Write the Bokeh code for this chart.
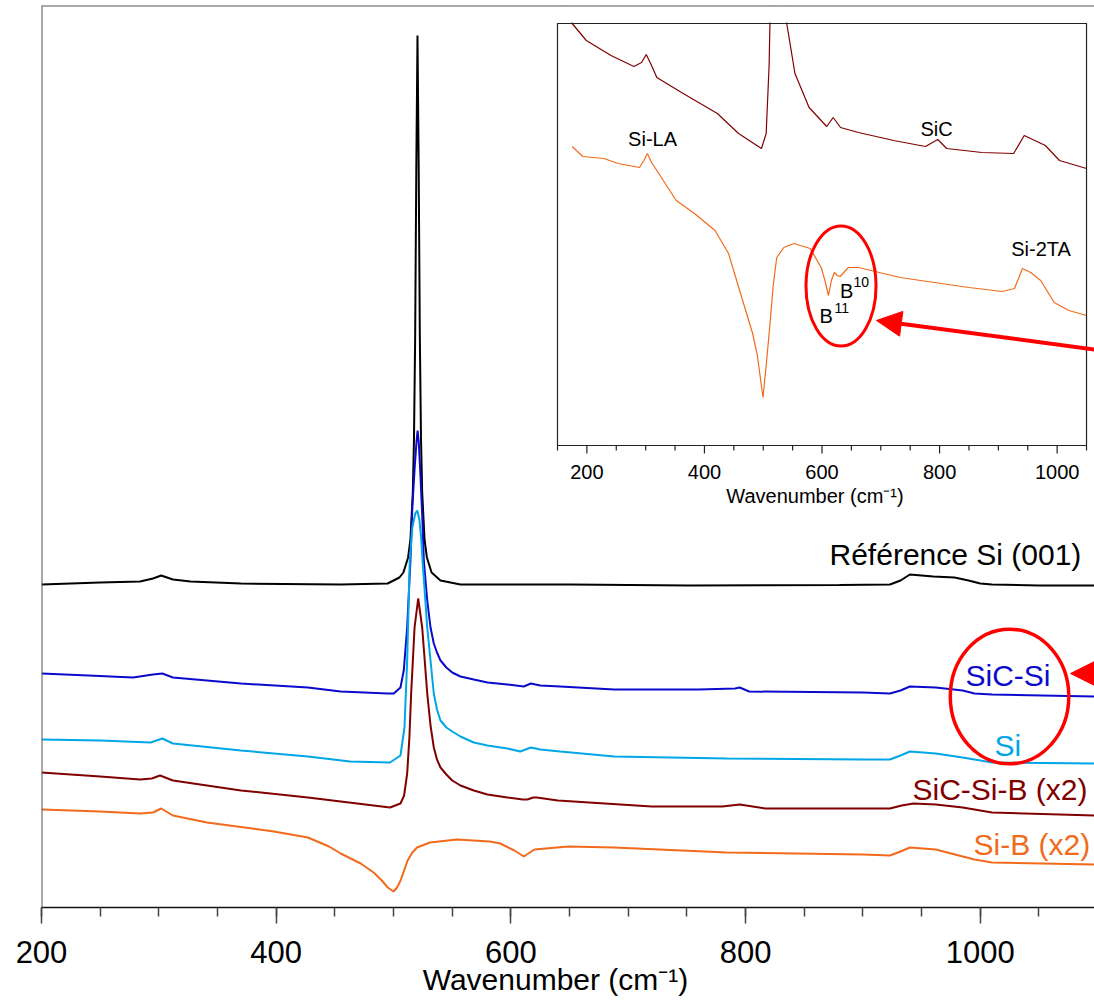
from bokeh.plotting import figure
from bokeh.models import Range1d, Span, Arrow, NormalHead, SingleIntervalTicker
from bokeh.core.properties import value
from bokeh.embed import file_html
from bokeh.resources import INLINE

FONT = "Liberation Sans"

# ---------------- main panel spectra: (wavenumber cm-1, intensity a.u., offset stacked) -------------
ref_si001 = [(200, 323), (250, 325), (284, 326), (295, 329), (302, 332), (312, 328), (327, 326), (370, 324),
             (455, 323), (495, 324), (500, 327), (505, 330), (508.4, 335), (512.4, 350), (514.4, 368),
             (516.4, 415), (517.4, 468), (518.4, 569), (519.4, 742), (520.4, 872), (521.4, 742), (522.4, 569),
             (523.4, 468), (524.4, 415), (526.4, 368), (528.4, 350), (532.4, 335), (540, 327), (557, 323),
             (650, 323), (752, 322), (880, 322.5), (923, 323), (932, 327), (940, 333), (960, 331), (978, 330),
             (990, 327), (1000, 324), (1010, 323), (1050, 322), (1097, 322)]
sic_si = [(200, 234), (240, 232), (278, 230), (295, 233), (303, 234), (312, 230), (370, 224), (427, 220),
          (455, 216), (495, 214), (500.2, 214), (505.9, 220), (508.7, 237), (511.6, 280), (514.4, 347),
          (516, 400), (518, 440), (519.5, 465), (520.5, 477), (521.5, 465), (523, 430), (524.5, 390),
          (525.8, 347), (528.7, 307), (531.5, 280), (534.3, 264), (537, 255), (540, 247), (545, 240),
          (550, 235), (557, 231), (568.4, 228), (580, 225), (597, 223), (611, 221), (617, 224), (625, 222),
          (642, 221), (688, 218), (760, 218), (791, 219), (795, 220), (803, 216), (900, 215), (923, 214),
          (932, 217), (940, 221), (962, 220), (985, 217), (995, 214), (1010, 213), (1097, 211)]
si = [(200, 168), (250, 167), (293, 165), (303, 169), (312, 164), (370, 157), (427, 151), (463, 146),
      (497, 145), (505.9, 152), (509.3, 180), (511.6, 247), (513.8, 347), (516, 380), (518.5, 394),
      (520.2, 397), (522, 388), (523.5, 370), (524.7, 347), (528.7, 280), (534.3, 214), (537, 198),
      (540, 187), (545, 180), (550, 176), (557, 171), (568.4, 165), (580, 162), (597, 159), (608, 156),
      (617, 160), (625, 158), (642, 156), (688, 151), (784, 149), (900, 148), (923, 148), (932, 152),
      (940, 156), (962, 154), (985, 150), (995, 148), (1010, 145), (1097, 144)]
sic_si_b = [(200, 135), (250, 131), (284, 128), (294, 129), (301, 132), (312, 127), (370, 117), (427, 110),
            (483, 102), (497, 100), (505.9, 104), (509, 112), (511.6, 134), (513.5, 170), (515, 214),
            (517.9, 280), (521, 309), (524.4, 280), (528.7, 214), (531.5, 182), (534.3, 160), (537, 148),
            (540, 140), (545, 133), (550, 127), (557, 122), (568.4, 117), (580, 113), (597, 110), (610, 108),
            (614, 108), (619, 110), (622, 110), (640, 107), (720, 101), (780, 101), (795, 103), (817, 99),
            (923, 99), (933, 102), (943, 104), (962, 103), (985, 100), (995, 98), (1010, 95), (1097, 92)]
si_b = [(200, 98), (250, 96), (284, 94), (295, 95), (302, 99), (312, 92), (341, 85), (398, 76), (427, 70),
        (445, 61), (455, 54), (472, 44), (483, 35), (490, 27), (495, 20), (500, 16), (503, 20), (506, 27),
        (509, 37), (512, 47), (516, 55), (520, 60), (531, 65), (554, 68), (582, 66), (591, 64), (603, 57),
        (611, 51), (620, 58), (649, 61), (688, 60), (784, 55), (900, 53), (923, 52), (932, 56), (940, 60),
        (962, 58), (985, 51), (995, 48), (1010, 45), (1097, 43)]

# ---------------- inset spectra (zoomed, B-doped samples) ----------------
inset_sic_si_b = [(160, 445), (175, 422), (199, 405), (241, 390), (280, 379), (293, 383), (301, 391),
                  (310, 380), (319, 368), (361, 353), (422, 332), (458, 312), (497, 297), (505, 312),
                  (510, 380), (513, 470), (516, 700), (530, 700), (538, 470), (540, 422), (554, 372),
                  (578, 338), (608, 319), (619, 328), (631.5, 318), (662, 313), (722, 305), (776, 299),
                  (797, 306), (812, 297), (872, 293), (926, 292), (944, 310), (980, 300), (1004, 285),
                  (1050, 277)]
inset_si_b = [(175, 299), (193, 289), (229, 287), (253, 282), (289.5, 278), (297, 285), (303, 292),
              (310, 283), (319, 275), (352, 245), (383, 232), (418, 215), (441, 192), (465, 145), (482, 112),
              (490, 90), (499.6, 48), (505, 80), (511, 118), (517, 160), (523, 188), (535, 198), (552, 202),
              (580, 197), (598.6, 178), (605, 165), (611, 150), (616, 165), (621, 173), (626, 170),
              (630.6, 169), (645, 178), (662, 178), (733, 168), (791, 163), (850, 158), (907, 154),
              (927.5, 157), (941, 177), (955, 173), (972, 165), (995, 143), (1020, 135), (1050, 130)]

inset_major_ticks = [200, 400, 600, 800, 1000]
inset_minor_ticks = [150, 250, 300, 350, 450, 500, 550, 650, 700, 750, 850, 900, 950, 1050]

series = [
    (ref_si001, "#000000", "Référence Si (001)", 871.5, 353),
    (sic_si, "#0A0ACC", "SiC-Si", 987.4, 232),
    (si, "#00A6E6", "Si", 1012.1, 162),
    (sic_si_b, "#800000", "SiC-Si-B (x2)", 942.2, 118.5),
    (si_b, "#F26A1B", "Si-B (x2)", 994.2, 63.5),
]

RED = "#FF0000"

p = figure(width=1094, height=1001, x_range=Range1d(200, 1097.3), y_range=Range1d(0, 902),
           output_backend="svg", toolbar_location=None,
           min_border_left=41, min_border_right=0, min_border_top=5, min_border_bottom=94,
           background_fill_color="white", border_fill_color="white")
p.outline_line_color = None
p.grid.visible = False
p.yaxis.visible = False

ax = p.xaxis[0]
ax.ticker = SingleIntervalTicker(interval=200, num_minor_ticks=4)
ax.axis_line_color = "#111111"
ax.axis_line_width = 1.5
ax.major_tick_out = 16
ax.major_tick_in = 0
ax.minor_tick_out = 9
ax.minor_tick_in = 0
ax.major_tick_line_color = "#444444"
ax.minor_tick_line_color = "#444444"
ax.major_tick_line_width = 1.5
ax.minor_tick_line_width = 1.5
ax.major_label_text_font = FONT
ax.major_label_text_font_size = "31px"
ax.major_label_text_color = "#000000"
ax.major_label_standoff = 17
ax.axis_label = "Wavenumber (cm⁻¹)" + "\u00a0" * 3
ax.axis_label_text_font = FONT
ax.axis_label_text_font_size = "30px"
ax.axis_label_text_font_style = "normal"
ax.axis_label_text_color = "#000000"
ax.axis_label_standoff = -3

p.add_layout(Span(location=200, dimension="height", line_color="#555555", line_width=2))
p.add_layout(Span(location=902, dimension="width", line_color="#555555", line_width=2))

for data, color, label, lx, ly in series:
    xs = [d[0] for d in data]
    ys = [d[1] for d in data]
    p.line(xs, ys, line_color=color, line_width=2)

for data, color, label, lx, ly in series:
    p.text(x=[lx], y=[ly], text=[label], text_color=color, text_font=value(FONT),
           text_font_size=value("30px"), text_align="left", text_baseline="middle")

# ---------------- inset -----------------
inset = p.subplot(x_source=Range1d(150, 1050), y_source=Range1d(0, 422),
                  x_target=Range1d(639.7, 1090.5), y_target=Range1d(462, 884))
inset.quad(left=[150], right=[1050], bottom=[0], top=[422], fill_color="white", line_color=None)
inset.line([d[0] for d in inset_sic_si_b], [d[1] for d in inset_sic_si_b], line_color="#800000", line_width=1.2)
inset.line([d[0] for d in inset_si_b], [d[1] for d in inset_si_b], line_color="#F26A1B", line_width=1.2)
inset.quad(left=[150], right=[1050], bottom=[423], top=[470], fill_color="white", line_color=None)
inset.quad(left=[150], right=[1050], bottom=[0], top=[422], fill_color=None, line_color="#222222", line_width=1.2)
inset.segment(x0=inset_major_ticks, y0=[0] * 5, x1=inset_major_ticks, y1=[-8] * 5,
              line_color="#222222", line_width=1.2)
inset.segment(x0=inset_minor_ticks, y0=[0] * len(inset_minor_ticks), x1=inset_minor_ticks,
              y1=[-5] * len(inset_minor_ticks), line_color="#222222", line_width=1.2)
inset.text(x=inset_major_ticks, y=[-26.5] * 5, text=[str(t) for t in inset_major_ticks], text_color="#000000",
           text_font=value(FONT), text_font_size=value("20px"), text_align="center", text_baseline="middle")
inset.text(x=[588], y=[-50.5], text=["Wavenumber (cm⁻¹)"], text_color="#000000",
           text_font=value(FONT), text_font_size=value("20px"), text_align="center", text_baseline="middle")

ann_big = [("Si-LA", 270.1, 306.7), ("SiC", 767.4, 316.7), ("Si-2TA", 922, 197), ("B", 630.6, 155),
           ("B", 595.7, 129.5)]
for t, x, y in ann_big:
    inset.text(x=[x], y=[y], text=[t], text_color="#000000", text_font=value(FONT),
               text_font_size=value("20px"), text_align="left", text_baseline="middle")
ann_sup = [("10", 653.6, 163.5), ("11", 621.3, 137.5)]
for t, x, y in ann_sup:
    inset.text(x=[x], y=[y], text=[t], text_color="#000000", text_font=value(FONT),
               text_font_size=value("14px"), text_align="left", text_baseline="middle")

# ---------------- red highlights -----------------
p.ellipse(x=[1024.9], y=[211], width=[101], height=[134.5], fill_color=None, line_color=RED, line_width=3.5)
p.ellipse(x=[881.3], y=[621.5], width=[59.7], height=[120], fill_color=None, line_color=RED, line_width=3)
p.add_layout(Arrow(end=NormalHead(size=25, fill_color=RED, line_color=RED, line_width=1),
                   x_start=1097.3, y_start=558, x_end=911.5, y_end=587, line_color=RED, line_width=4))
p.add_layout(Arrow(end=NormalHead(size=30, fill_color=RED, line_color=RED, line_width=1),
                   x_start=1097.3, y_start=234, x_end=1076.9, y_end=234, line_color=RED, line_width=4))

open("out.html", "w").write(file_html(p, INLINE))
